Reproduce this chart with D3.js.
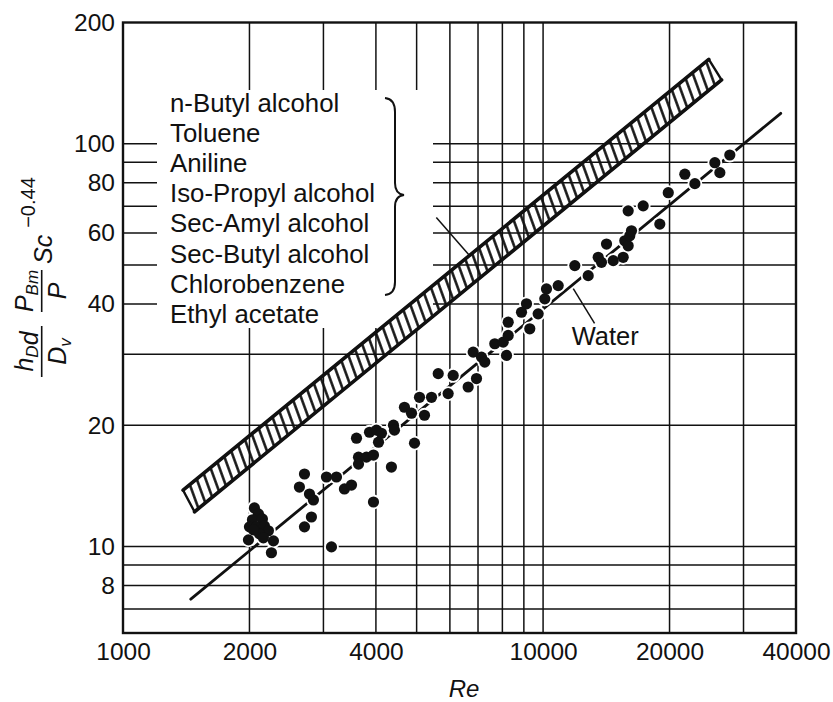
<!DOCTYPE html>
<html>
<head>
<meta charset="utf-8">
<script src="https://cdn.jsdelivr.net/npm/d3@7"></script>
<style>
  html, body { margin: 0; padding: 0; background: #fff; }
  svg text { font-family: "Liberation Sans", Arial, Helvetica, sans-serif; fill: #111; }
</style>
</head>
<body>
<svg id="chart" width="833" height="702"></svg>
<script>
// ---- data ---------------------------------------------------------------
const reTickLabels = [1000, 2000, 4000, 10000, 20000, 40000];
const yTickLabels = [8, 10, 20, 40, 60, 80, 100, 200];
const reGridLines = [2000, 3000, 4000, 5000, 6000, 7000, 8000, 9000, 10000, 20000, 30000];
const yGridLines = [7, 8, 9, 10, 20, 30, 40, 50, 60, 70, 80, 90, 100];

const solvents = ["n-Butyl alcohol", "Toluene", "Aniline", "Iso-Propyl alcohol",
  "Sec-Amyl alcohol", "Sec-Butyl alcohol", "Chlorobenzene", "Ethyl acetate"];

// correlation line for water (Re, j-group value)
const waterRe = [1450, 36800];
const waterSh = [7.4, 119];

// band covering the organic solvents: upper and lower edges
const bandUpperRe = [1390, 24800];
const bandUpperSh = [13.8, 162];
const bandLowerRe = [1480, 26600];
const bandLowerSh = [12.2, 144];

// measured points for water
const pointRe = [2055, 2101, 2033, 2147, 2000, 2078, 2171, 2219, 2113, 1989, 2281, 2256, 2044, 2159,
  2704, 2630, 2779, 2840, 2809, 2704, 3135, 3050, 3222, 3366, 3499, 3947,
  3596, 3636, 3636, 3798, 3947, 3862, 4012, 4123, 4057, 4404, 4428, 4355,
  4677, 4862, 4942, 5079, 5220, 5425, 5628, 5943, 6109, 6632, 6942, 6817, 7134, 7264,
  7674, 8035, 8183, 8259, 8259, 8885, 9131, 9297, 9734, 10093, 10187, 10864,
  11899, 12805, 13528, 13774, 14158, 14689, 15512, 15648, 15943, 16083, 16234, 15943,
  17310, 18961, 19860, 21750, 22980, 25640, 26350, 27830];
const pointSh = [12.47, 12.05, 11.65, 11.71, 11.19, 11.19, 11.25, 10.94, 10.75, 10.39, 10.33, 9.65, 11.0, 10.51,
  15.14, 14.05, 13.5, 13.05, 11.84, 11.19, 9.98, 14.88, 14.88, 13.9, 14.21, 12.9,
  18.58, 16.67, 16.02, 16.67, 16.87, 19.22, 19.45, 19.11, 18.16, 20.01, 19.45, 15.75,
  22.17, 21.43, 18.06, 23.47, 21.18, 23.47, 26.87, 23.97, 26.6, 24.89, 26.12, 30.39, 29.53, 28.71,
  31.88, 32.17, 29.82, 33.42, 36.06, 38.17, 40.05, 34.72, 37.82, 41.2, 43.6, 44.44,
  49.83, 47.05, 52.24, 50.76, 56.36, 51.26, 52.24, 57.43, 55.8, 59.1, 60.8, 68.14,
  70.11, 63.17, 75.6, 84.03, 79.6, 89.74, 84.78, 93.76];

// annotation leaders (Re, value)
const bracketLeaderRe = [5570, 6680];
const bracketLeaderSh = [65.6, 52.8];
const waterLeaderRe = [11800, 13260];
const waterLeaderSh = [43.7, 35.8];
const waterLabelAt = [11700, 31.6];

// ---- layout -------------------------------------------------------------
const svg = d3.select("#chart");
const plot = { left: 123, right: 796, top: 22.5, bottom: 633 };
const x = d3.scaleLog().domain([1000, 40000]).range([plot.left, plot.right]);
const y = d3.scaleLog().domain([6.1, 200]).range([plot.bottom, plot.top]);

// region kept clear of grid lines for the solvent list
const clear = { left: 157, right: 433, top: 90, bottom: 328 };
const ink = "#111";

// hatch pattern for the solvent band
const defs = svg.append("defs");
const pat = defs.append("pattern")
  .attr("id", "hatch")
  .attr("patternUnits", "userSpaceOnUse")
  .attr("width", 8.4).attr("height", 40)
  .attr("patternTransform", "rotate(-20)");
pat.append("line")
  .attr("x1", 4.2).attr("x2", 4.2).attr("y1", -2).attr("y2", 42)
  .attr("stroke", ink).attr("stroke-width", 2.5);

// ---- grid ---------------------------------------------------------------
const grid = svg.append("g").attr("stroke", ink).attr("stroke-width", 1.5);
reGridLines.forEach(v => {
  const px = x(v);
  const segs = (px > clear.left && px < clear.right)
    ? [[plot.top, clear.top], [clear.bottom, plot.bottom]]
    : [[plot.top, plot.bottom]];
  segs.forEach(s => grid.append("line")
    .attr("x1", px).attr("x2", px).attr("y1", s[0]).attr("y2", s[1]));
});
yGridLines.forEach(v => {
  const py = y(v);
  const segs = (py > clear.top && py < clear.bottom)
    ? [[plot.left, clear.left], [clear.right, plot.right]]
    : [[plot.left, plot.right]];
  segs.forEach(s => grid.append("line")
    .attr("y1", py).attr("y2", py).attr("x1", s[0]).attr("x2", s[1]));
});

// ---- frame --------------------------------------------------------------
svg.append("rect")
  .attr("x", plot.left).attr("y", plot.top)
  .attr("width", plot.right - plot.left).attr("height", plot.bottom - plot.top)
  .attr("fill", "none").attr("stroke", ink).attr("stroke-width", 2.4);

// ---- axes labels (tick text only; ticks are the grid) ---------------------
const xAxis = d3.axisBottom(x).tickValues(reTickLabels).tickFormat(d3.format("d")).tickSize(0).tickPadding(10);
const gx = svg.append("g").attr("transform", `translate(0,${plot.bottom})`).call(xAxis);
gx.select(".domain").remove();
gx.selectAll("text").attr("font-size", 24.5).attr("dy", "0.71em")
  .style("font-family", "'Liberation Sans', Arial, sans-serif").attr("fill", ink);

const yAxis = d3.axisLeft(y).tickValues(yTickLabels).tickFormat(d3.format("d")).tickSize(0).tickPadding(8);
const gy = svg.append("g").attr("transform", `translate(${plot.left},0)`).call(yAxis);
gy.select(".domain").remove();
gy.selectAll("text").attr("font-size", 24.5)
  .style("font-family", "'Liberation Sans', Arial, sans-serif").attr("fill", ink);

svg.append("text").attr("x", 464).attr("y", 697).attr("text-anchor", "middle")
  .attr("font-size", 24).attr("font-style", "italic").text("Re");

// rotated y-axis title:  h_D d / D_v  ·  P_Bm / P  ·  Sc^-0.44
const yt = svg.append("g").attr("transform", "rotate(-90)")
  .attr("font-style", "italic");
function fraction(uc, half, num, den) {
  yt.append("line").attr("x1", uc - half).attr("x2", uc + half)
    .attr("y1", 41.7).attr("y2", 41.7).attr("stroke", ink).attr("stroke-width", 1.6);
  [[num, 33], [den, 66]].forEach(([parts, base]) => {
    const t = yt.append("text").attr("x", uc).attr("y", base)
      .attr("text-anchor", "middle").attr("font-size", 25).attr("font-style", "italic");
    parts.forEach(p => {
      if (typeof p === "string") t.append("tspan").text(p);
      else t.append("tspan").attr("font-size", 17).attr("dy", 5).text(p.sub)
        .clone(false).attr("font-size", 25).attr("dy", -5).text("");
    });
  });
}
fraction(-351.5, 25.5, ["h", { sub: "D" }, "d"], ["D", { sub: "v" }]);
fraction(-291, 21, ["P", { sub: "Bm" }], ["P"]);
const sc = yt.append("text").attr("x", -264).attr("y", 52).attr("font-size", 25)
  .attr("font-style", "italic");
sc.append("tspan").text("Sc");
sc.append("tspan").attr("dx", 7).attr("dy", -17).attr("font-size", 20)
  .attr("font-style", "normal").text("\u22120.44");

// ---- solvent band -------------------------------------------------------
const bandPts = [
  [bandUpperRe[0], bandUpperSh[0]], [bandUpperRe[1], bandUpperSh[1]],
  [bandLowerRe[1], bandLowerSh[1]], [bandLowerRe[0], bandLowerSh[0]]
].map(d => [x(d[0]), y(d[1])]);
svg.append("path")
  .attr("d", d3.line()(bandPts) + "Z")
  .attr("fill", "url(#hatch)").attr("stroke", ink).attr("stroke-width", 2.4)
  .attr("stroke-linejoin", "round");
[[bandUpperRe, bandUpperSh], [bandLowerRe, bandLowerSh]].forEach(([rr, ss]) => {
  svg.append("line")
    .attr("x1", x(rr[0])).attr("y1", y(ss[0])).attr("x2", x(rr[1])).attr("y2", y(ss[1]))
    .attr("stroke", ink).attr("stroke-width", 3.6).attr("stroke-linecap", "round");
});

// ---- water line, with breaks where points sit -----------------------------
svg.append("line")
  .attr("x1", x(waterRe[0])).attr("y1", y(waterSh[0]))
  .attr("x2", x(waterRe[1])).attr("y2", y(waterSh[1]))
  .attr("stroke", ink).attr("stroke-width", 2.8).attr("stroke-linecap", "round");

const pts = pointRe.map((r, i) => ({ re: r, sh: pointSh[i] }));
svg.append("g").selectAll("circle").data(pts).join("circle")
  .attr("cx", d => x(d.re)).attr("cy", d => y(d.sh)).attr("r", 7.4)
  .attr("fill", "#fff");
svg.append("g").selectAll("circle").data(pts).join("circle")
  .attr("cx", d => x(d.re)).attr("cy", d => y(d.sh)).attr("r", 5.6)
  .attr("fill", ink);

// ---- solvent list with brace --------------------------------------------
const list = svg.append("g").attr("font-size", 25.8);
solvents.forEach((s, i) => {
  list.append("text").attr("x", 170).attr("y", 112 + i * 30.1).text(s);
});
svg.append("path")
  .attr("d", "M385,98 Q395,99 395,112 L395,183 Q395,194 404,195 Q395,196 395,207 L395,282 Q395,294 385,295")
  .attr("fill", "none").attr("stroke", ink).attr("stroke-width", 2);

svg.append("line")
  .attr("x1", x(bracketLeaderRe[0])).attr("y1", y(bracketLeaderSh[0]))
  .attr("x2", x(bracketLeaderRe[1])).attr("y2", y(bracketLeaderSh[1]))
  .attr("stroke", ink).attr("stroke-width", 1.5);

// ---- water label --------------------------------------------------------
svg.append("line")
  .attr("x1", x(waterLeaderRe[0])).attr("y1", y(waterLeaderSh[0]))
  .attr("x2", x(waterLeaderRe[1])).attr("y2", y(waterLeaderSh[1]))
  .attr("stroke", ink).attr("stroke-width", 1.5);
svg.append("text").attr("x", x(waterLabelAt[0])).attr("y", y(waterLabelAt[1]))
  .attr("font-size", 25.5).text("Water");
</script>
</body>
</html>
